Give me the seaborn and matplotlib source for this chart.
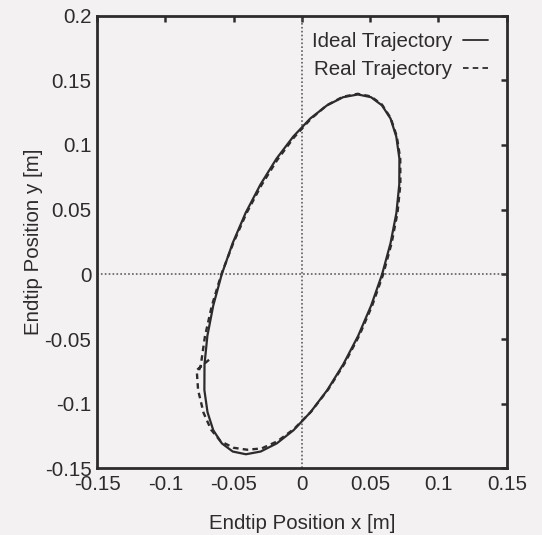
import numpy as np
import pandas as pd
import matplotlib
matplotlib.use("Agg")
import matplotlib.pyplot as plt
import seaborn as sns

# Ideal trajectory
ideal_x = [0.0587, 0.0649, 0.0692, 0.0713, 0.0714, 0.0691, 0.0649, 0.0586, 0.0506, 0.0410,
           0.0302, 0.0184, 0.0061, -0.0063, -0.0186, -0.0303, -0.0412, -0.0507, -0.0587,
           -0.0649, -0.0692, -0.0713, -0.0714, -0.0691, -0.0649, -0.0586, -0.0506, -0.0410,
           -0.0302, -0.0184, -0.0061, 0.0063, 0.0186, 0.0303, 0.0412, 0.0507, 0.0587]
ideal_y = [0.0, 0.0241, 0.0475, 0.0695, 0.0894, 0.1065, 0.1204, 0.1306, 0.1369, 0.1390,
           0.1369, 0.1306, 0.1204, 0.1065, 0.0894, 0.0695, 0.0475, 0.0241, 0.0,
           -0.0241, -0.0475, -0.0695, -0.0894, -0.1065, -0.1204, -0.1306, -0.1369, -0.1390,
           -0.1369, -0.1306, -0.1204, -0.1065, -0.0894, -0.0695, -0.0475, -0.0241, 0.0]

# Real trajectory
real_x = [-0.0680, -0.0770, -0.0760, -0.0720, -0.0665, -0.0595, -0.0500, -0.0400, -0.0295,
          -0.0180, -0.0058, 0.0068, 0.0192, 0.0310, 0.0420, 0.0515, 0.0595, 0.0657, 0.0700,
          0.0721, 0.0720, 0.0695, 0.0650, 0.0586, 0.0505, 0.0408, 0.0300, 0.0182, 0.0064,
          -0.0058, -0.0180, -0.0297, -0.0407, -0.0503, -0.0590, -0.0660, -0.0710, -0.0740,
          -0.0760]
real_y = [-0.0660, -0.0740, -0.0894, -0.1070, -0.1200, -0.1290, -0.1340, -0.1355, -0.1345,
          -0.1290, -0.1195, -0.1060, -0.0890, -0.0693, -0.0473, -0.0240, 0.0, 0.0242, 0.0476,
          0.0696, 0.0895, 0.1066, 0.1208, 0.1312, 0.1375, 0.1395, 0.1372, 0.1306, 0.1200,
          0.1058, 0.0885, 0.0688, 0.0470, 0.0240, 0.0, -0.0245, -0.0480, -0.0700,
          -0.0760]

x_ticks = [-0.15, -0.1, -0.05, 0, 0.05, 0.1, 0.15]
x_tick_labels = ["-0.15", "-0.1", "-0.05", "0", "0.05", "0.1", "0.15"]
y_ticks = [-0.15, -0.1, -0.05, 0, 0.05, 0.1, 0.15, 0.2]
y_tick_labels = ["-0.15", "-0.1", "-0.05", "0", "0.05", "0.1", "0.15", "0.2"]

df_ideal = pd.DataFrame({"x": ideal_x, "y": ideal_y, "order": range(len(ideal_x))})
df_real = pd.DataFrame({"x": real_x, "y": real_y, "order": range(len(real_x))})

sns.set_theme(style="white")
plt.rcParams["font.family"] = ["Liberation Sans", "DejaVu Sans"]
plt.rcParams["lines.scale_dashes"] = False

bg = "#f4f1f2"
ink = "#2e2b2c"
fs = 14.8

fig = plt.figure(figsize=(5.42, 5.35), dpi=100, facecolor=bg)
ax = fig.add_axes([0.179, 0.1243, 0.756, 0.8467])
ax.set_facecolor(bg)

# zero lines
ax.axhline(0, color="#555052", lw=1.1, ls=(0, (1.2, 1.6)), zorder=1)
ax.axvline(0, color="#555052", lw=1.1, ls=(0, (1.2, 1.6)), zorder=1)

sns.lineplot(data=df_ideal, x="x", y="y", sort=False, estimator=None, ax=ax,
             color=ink, lw=1.6, label="Ideal Trajectory", zorder=3)
sns.lineplot(data=df_real, x="x", y="y", sort=False, estimator=None, ax=ax,
             color=ink, lw=1.7, label="Real Trajectory", zorder=3)
ax.lines[-1].set_linestyle((0, (2.4, 1.8)))

ax.set_xlim(-0.15, 0.15)
ax.set_ylim(-0.15, 0.2)
ax.set_xticks(x_ticks)
ax.set_xticklabels(x_tick_labels)
ax.set_yticks(y_ticks)
ax.set_yticklabels(y_tick_labels)

ax.tick_params(axis="both", which="both", direction="in", length=4.5, width=1.8,
               colors=ink, labelsize=fs, top=True, right=True,
               labeltop=False, labelright=False, pad=4)
ax.tick_params(axis="x", pad=5)
for s in ax.spines.values():
    s.set_visible(True)
    s.set_linewidth(2.0)
    s.set_color(ink)

ax.set_xlabel("Endtip Position x [m]", fontsize=fs, color=ink, labelpad=14)
ax.set_ylabel("Endtip Position y [m]", fontsize=fs, color=ink, labelpad=1.5)

handles, labels = ax.get_legend_handles_labels()
handles[1].set_linestyle((0, (4, 3)))
leg = ax.legend(handles, labels, loc="upper right", bbox_to_anchor=(0.955, 0.964),
                frameon=False, fontsize=fs, markerfirst=False, handlelength=1.25,
                handletextpad=0.5, labelspacing=0.45, borderpad=0, borderaxespad=0)
for t in leg.get_texts():
    t.set_color(ink)
for h in leg.get_lines():
    h.set_linewidth(1.3)
    h.set_color(ink)

fig.savefig("out.png", dpi=100, facecolor=bg)
